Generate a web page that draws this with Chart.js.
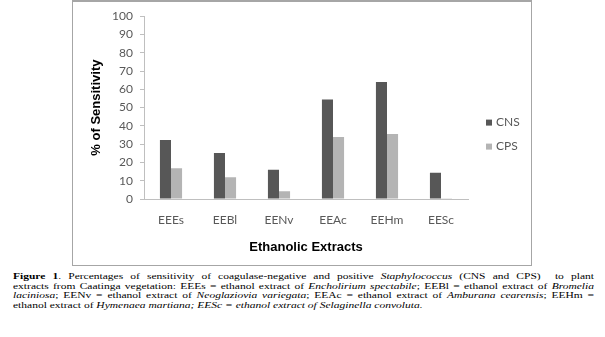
<!DOCTYPE html>
<html><head><meta charset="utf-8">
<script src="https://cdn.jsdelivr.net/npm/chart.js@4"></script>
<style>
html,body{margin:0;padding:0;background:#fff}
body{width:605px;height:337px;overflow:hidden;position:relative}
#frame{position:absolute;left:72px;top:0;width:458px;height:263px;border-top:2px solid #a6a6a6;border-left:1px solid #a6a6a6;border-right:1px solid #a6a6a6;border-bottom:1px solid #a6a6a6}
#frame canvas{display:block}
#cap{position:absolute;left:13px;top:271px;width:581px;font-family:"Liberation Serif","Times New Roman",serif;font-size:11.5px;line-height:12.5px;color:#000;transform:scaleY(0.78);transform-origin:0 0}
#cap .l{text-align:justify;text-align-last:justify}
#cap .e{text-align:left}
</style>
</head><body>
<div id="frame"><canvas id="c" width="458" height="263"></canvas></div>
<div id="cap">
<div class="l"><b>Figure 1</b>. Percentages of sensitivity of coagulase-negative and positive <i>Staphylococcus</i> (CNS and CPS)&nbsp; to plant</div>
<div class="l">extracts from Caatinga vegetation: EEEs = ethanol extract of <i>Encholirium spectabile</i>; EEBl = ethanol extract of <i>Bromelia</i></div>
<div class="l"><i>laciniosa</i>; EENv = ethanol extract of <i>Neoglaziovia variegata</i>; EEAc = ethanol extract of <i>Amburana cearensis</i>; EEHm =</div>
<div class="e">ethanol extract of <i>Hymenaea martiana; EESc = ethanol extract of Selaginella convoluta.</i></div>
</div>
<script>
const categories = ['EEEs', 'EEBl', 'EENv', 'EEAc', 'EEHm', 'EESc'];
const seriesNames = ['CNS', 'CPS'];
const cnsValues = [32.3, 25.2, 16, 54.4, 64, 14.4];
const cpsValues = [16.8, 11.9, 4.3, 33.9, 35.5, 0.4];
const yTicks = [0, 10, 20, 30, 40, 50, 60, 70, 80, 90, 100];
const xTitle = 'Ethanolic Extracts';
const yTitle = '% of Sensitivity';

const colors = ['#575757', '#b4b4b4'];

const legendPlugin = {
  id: 'sideLegend',
  afterDraw(chart) {
    const ctx = chart.ctx;
    const area = chart.chartArea;
    ctx.save();
    ctx.font = '12px Lato, "Open Sans", sans-serif';
    ctx.textBaseline = 'middle';
    ctx.textAlign = 'left';
    const x0 = area.right + 18;
    const yc = (area.top + area.bottom) / 2 + 27;
    chart.data.datasets.forEach((ds, i) => {
      const y = yc - 12 + i * 24;
      ctx.fillStyle = ds.backgroundColor;
      ctx.fillRect(x0, y - 3, 6, 6);
      ctx.fillStyle = '#595959';
      ctx.fillText(ds.label, x0 + 10, y);
    });
    ctx.restore();
  }
};

new Chart(document.getElementById('c'), {
  type: 'bar',
  data: {
    labels: categories,
    datasets: [
      { label: seriesNames[0], data: cnsValues, backgroundColor: colors[0] },
      { label: seriesNames[1], data: cpsValues, backgroundColor: colors[1] }
    ]
  },
  options: {
    responsive: false,
    animation: false,
    devicePixelRatio: 1,
    layout: { padding: { top: 4, right: 63, bottom: 0, left: 0 } },
    datasets: { bar: { categoryPercentage: 0.41, barPercentage: 1.0 } },
    plugins: { legend: { display: false }, tooltip: { enabled: false } },
    scales: {
      x: {
        grid: { display: false, drawTicks: false },
        border: { display: true, color: '#bfbfbf', width: 1 },
        ticks: { color: '#595959', font: { family: 'Lato', size: 12 }, padding: 14, maxRotation: 0 },
        title: { display: true, text: xTitle, color: '#000', font: { family: 'Liberation Sans', size: 13, weight: 'bold' }, padding: { top: 4, bottom: 10 } },
        afterFit(s) { s.height = 66; }
      },
      y: {
        min: 0, max: 100,
        afterBuildTicks(s) { s.ticks = yTicks.map(v => ({ value: v })); },
        grid: { drawOnChartArea: false, drawTicks: true, tickLength: 4, color: '#bfbfbf' },
        border: { display: true, color: '#bfbfbf', width: 1 },
        ticks: { color: '#595959', font: { family: 'Lato', size: 12 }, padding: 7 },
        title: { display: true, text: yTitle, color: '#000', font: { family: 'Liberation Sans', size: 13, weight: 'bold' }, padding: { top: 16, bottom: 0 } },
        afterFit(s) { s.width = 71; }
      }
    }
  },
  plugins: [legendPlugin]
});
</script>
</body></html>
